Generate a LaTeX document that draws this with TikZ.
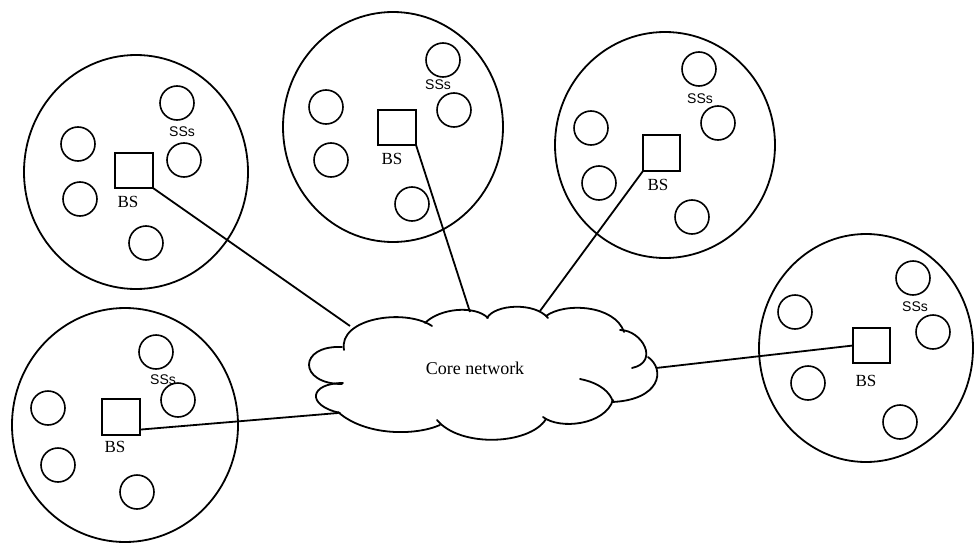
\documentclass[tikz,border=0pt]{standalone}
\usepackage{fontspec}
\setmainfont{Liberation Serif}
\newfontfamily\ssfont{Liberation Sans}
\usetikzlibrary{shapes.geometric,calc}
\tikzset{
  cell/.style={draw, ellipse, line width=1.8pt, inner sep=0pt, outer sep=0pt},
  ss/.style={draw, circle, line width=1.6pt, minimum size=34pt, inner sep=0pt, outer sep=0pt},
  bsbox/.style={draw, rectangle, line width=1.7pt, minimum width=38pt, minimum height=35pt, inner sep=0pt, outer sep=0pt},
  bslabel/.style={font=\fontsize{17}{17}\selectfont, inner sep=0pt},
  sslabel/.style={font=\ssfont\fontsize{14}{14}\selectfont, inner sep=0pt},
  link/.style={line width=1.8pt},
  cloudline/.style={line width=1.8pt, line cap=round},
}
\begin{document}
\begin{tikzpicture}[x=1pt, y=-1pt]
\useasboundingbox (0,0) rectangle (974,543);
% ---------- cell 1 (top left)
\node[cell, minimum width=224pt, minimum height=234pt] (cell1) at (136,172) {};
\node[ss] (s11) at (177,103) {};
\node[ss] (s12) at (78,144) {};
\node[ss] (s13) at (184,160) {};
\node[ss] (s14) at (80,199) {};
\node[ss] (s15) at (146,243) {};
\node[sslabel] (l1) at (182,132) {SSs};
\node[bsbox] (bs1) at (134,170.5) {};
\node[bslabel] (b1) at (128,202) {BS};
% ---------- cell 2 (top middle)
\node[cell, minimum width=220pt, minimum height=230pt] (cell2) at (393,127) {};
\node[ss] (s21) at (443,60) {};
\node[ss] (s22) at (326,107) {};
\node[ss] (s23) at (454,110) {};
\node[ss] (s24) at (331,160) {};
\node[ss] (s25) at (412,204) {};
\node[sslabel] (l2) at (438,85) {SSs};
\node[bsbox] (bs2) at (397,127.5) {};
\node[bslabel] (b2) at (392,159) {BS};
% ---------- cell 3 (top right)
\node[cell, minimum width=220pt, minimum height=226pt] (cell3) at (665,145) {};
\node[ss] (s31) at (699,69) {};
\node[ss] (s32) at (591,128) {};
\node[ss] (s33) at (718,123) {};
\node[ss] (s34) at (599,183) {};
\node[ss] (s35) at (692,217) {};
\node[sslabel] (l3) at (700,99) {SSs};
\node[bsbox, minimum width=37pt, minimum height=36pt] (bs3) at (661.5,153) {};
\node[bslabel] (b3) at (658,185) {BS};
% ---------- cell 4 (bottom left)
\node[cell, minimum width=226pt, minimum height=234pt] (cell4) at (125,425) {};
\node[ss] (s41) at (156,352) {};
\node[ss] (s42) at (48,408) {};
\node[ss] (s43) at (178,400) {};
\node[ss] (s44) at (58,465) {};
\node[ss] (s45) at (137,492) {};
\node[sslabel] (l4) at (163,380) {SSs};
\node[bsbox, minimum height=36pt] (bs4) at (121,417) {};
\node[bslabel] (b4) at (115,447) {BS};
% ---------- cell 5 (right)
\node[cell, minimum width=214pt, minimum height=228pt] (cell5) at (866,348) {};
\node[ss] (s51) at (913,278) {};
\node[ss] (s52) at (795,312) {};
\node[ss] (s53) at (933,332) {};
\node[ss] (s54) at (808,383) {};
\node[ss] (s55) at (900,422) {};
\node[sslabel] (l5) at (915,307) {SSs};
\node[bsbox, minimum width=37pt] (bs5) at (871.5,345.5) {};
\node[bslabel] (b5) at (866,381) {BS};
% ---------- core network cloud
\draw[cloudline] (344,350) .. controls (338,318) and (405,308) .. (432,326);
\draw[cloudline] (425,323) .. controls (440,308) and (475,305) .. (488,318);
\draw[cloudline] (487,318) .. controls (495,304) and (535,302) .. (548,318);
\draw[cloudline] (546,316) .. controls (565,302) and (615,305) .. (624,332);
\draw[cloudline] (620,330) .. controls (642,330) and (660,362) .. (632,368);
\draw[cloudline] (648,357) .. controls (666,370) and (660,400) .. (612,402);
\draw[cloudline] (580,379) .. controls (600,383) and (610,392) .. (613,402);
\draw[cloudline] (613,400) .. controls (605,425) and (560,430) .. (543,417);
\draw[cloudline] (546,419) .. controls (530,445) and (460,448) .. (437,420);
\draw[cloudline] (440,425) .. controls (415,436) and (365,436) .. (338,412);
\draw[cloudline] (340,413) .. controls (305,405) and (310,383) .. (343,383);
\draw[cloudline] (342,384) .. controls (298,384) and (298,345) .. (342,347);
\node[font=\fontsize{18}{18}\selectfont, inner sep=0pt] (core) at (475,368) {Core network};
\coordinate (c1) at (350,326);
\coordinate (c2) at (470,312);
\coordinate (c3) at (540,311);
\coordinate (c4) at (338,413);
\coordinate (c5) at (656,368);
% ---------- links
\draw[link] (bs1.south east) -- (c1);
\draw[link] (bs2.south east) -- (c2);
\draw[link] (bs3.south west) -- (c3);
\draw[link] ($(bs4.east)!0.7!(bs4.south east)$) -- (c4);
\draw[link] (bs5.west) -- (c5);
\end{tikzpicture}
\end{document}
